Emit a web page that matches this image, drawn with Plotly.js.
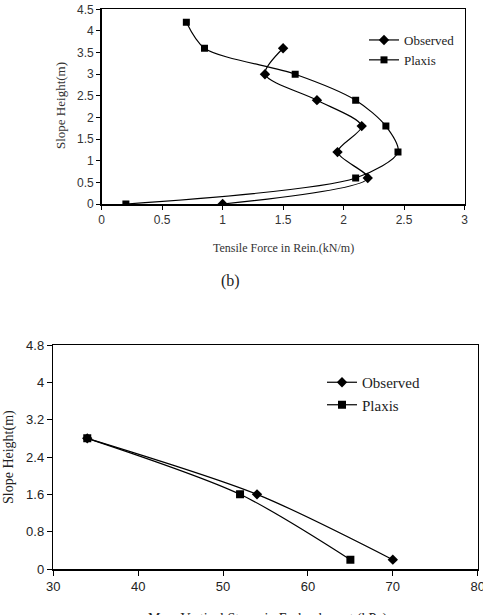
<!DOCTYPE html>
<html>
<head>
<meta charset="utf-8">
<script src="https://cdn.plot.ly/plotly-3.0.1.min.js"></script>
<style>
  html, body { margin: 0; padding: 0; background: #fff; }
  #chart { width: 483px; height: 615px; }
</style>
</head>
<body>
<div id="chart"></div>
<script>
// (b) Tensile force in reinforcement vs. slope height
const tensileObserved = [1.0, 2.2, 1.95, 2.15, 1.78, 1.35, 1.5];
const heightObserved  = [0, 0.6, 1.2, 1.8, 2.4, 3.0, 3.6];
const tensilePlaxis   = [0.2, 2.1, 2.45, 2.35, 2.1, 1.6, 0.85, 0.7];
const heightPlaxis    = [0, 0.6, 1.2, 1.8, 2.4, 3.0, 3.6, 4.2];

// Max. vertical stress in embankment vs. slope height
const stressObserved       = [34, 54, 70];
const stressHeightObserved = [2.8, 1.6, 0.2];
const stressPlaxis         = [34, 52, 65];
const stressHeightPlaxis   = [2.8, 1.6, 0.2];

const W = 483, H = 615;
const px = v => v / W;
const py = v => 1 - v / H;

const serif = 'Liberation Serif, Times New Roman, serif';
const sans = 'Liberation Sans, Arial, sans-serif';

const lineStyle = {color: '#000', width: 1.2, shape: 'spline', smoothing: 0.8};

const traces = [
  {x: tensileObserved, y: heightObserved, name: 'Observed', mode: 'lines+markers',
   xaxis: 'x', yaxis: 'y', legend: 'legend', line: lineStyle,
   marker: {symbol: 'diamond', size: 8, color: '#000'}},
  {x: tensilePlaxis, y: heightPlaxis, name: 'Plaxis', mode: 'lines+markers',
   xaxis: 'x', yaxis: 'y', legend: 'legend', line: lineStyle,
   marker: {symbol: 'square', size: 7, color: '#000'}},
  {x: stressObserved, y: stressHeightObserved, name: 'Observed', mode: 'lines+markers',
   xaxis: 'x2', yaxis: 'y2', legend: 'legend2', line: lineStyle,
   marker: {symbol: 'diamond', size: 8, color: '#000'}},
  {x: stressPlaxis, y: stressHeightPlaxis, name: 'Plaxis', mode: 'lines+markers',
   xaxis: 'x2', yaxis: 'y2', legend: 'legend2', line: lineStyle,
   marker: {symbol: 'square', size: 8, color: '#000'}}
];

const axisBase = {
  showline: true, mirror: true, linecolor: '#000', linewidth: 1.5,
  ticks: 'outside', ticklen: 4, tickcolor: '#000', tickwidth: 1,
  showgrid: false, zeroline: false, fixedrange: true,
  ticklabeloverflow: 'allow'
};

const layout = {
  width: W, height: H,
  margin: {l: 0, r: 0, t: 0, b: 0},
  paper_bgcolor: '#fff', plot_bgcolor: '#fff',
  showlegend: true,
  xaxis: Object.assign({}, axisBase, {
    domain: [px(101.7), px(464.5)], range: [0, 3], dtick: 0.5, anchor: 'y',
    tickfont: {family: sans, size: 12, color: '#333'}
  }),
  yaxis: Object.assign({}, axisBase, {
    domain: [py(204), py(9.3)], range: [0, 4.5], dtick: 0.5, anchor: 'x',
    tickfont: {family: sans, size: 12, color: '#333'}
  }),
  xaxis2: Object.assign({}, axisBase, {
    domain: [px(53.3), px(477.7)], range: [30, 80], dtick: 10, anchor: 'y2',
    ticklen: 5, tickfont: {family: sans, size: 13, color: '#222'}
  }),
  yaxis2: Object.assign({}, axisBase, {
    domain: [py(569), py(345)], range: [0, 4.8], dtick: 0.8, anchor: 'x2',
    ticklen: 5, tickfont: {family: sans, size: 13, color: '#222'},
    tickformat: '.1~f'
  }),
  legend: {
    x: px(364), y: py(25), xanchor: 'left', yanchor: 'top',
    bgcolor: 'rgba(0,0,0,0)', borderwidth: 0,
    font: {family: serif, size: 13, color: '#222'},
    itemwidth: 30, tracegroupgap: 4
  },
  legend2: {
    x: px(322), y: py(366), xanchor: 'left', yanchor: 'top',
    bgcolor: 'rgba(0,0,0,0)', borderwidth: 0,
    font: {family: serif, size: 15, color: '#222'},
    itemwidth: 30, tracegroupgap: 4
  },
  annotations: [
    {text: 'Slope Height(m)', xref: 'paper', yref: 'paper', x: px(60), y: py(106),
     xanchor: 'center', yanchor: 'middle',
     textangle: -90, showarrow: false, font: {family: serif, size: 13, color: '#333'}},
    {text: 'Tensile Force in Rein.(kN/m)', xref: 'paper', yref: 'paper', x: px(283), y: py(248),
     xanchor: 'center', yanchor: 'middle',
     showarrow: false, font: {family: serif, size: 12, color: '#333'}},
    {text: '(b)', xref: 'paper', yref: 'paper', x: px(230), y: py(281),
     xanchor: 'center', yanchor: 'middle',
     showarrow: false, font: {family: serif, size: 16, color: '#222'}},
    {text: 'Slope Height(m)', xref: 'paper', yref: 'paper', x: px(9), y: py(457),
     xanchor: 'center', yanchor: 'middle',
     textangle: -90, showarrow: false, font: {family: serif, size: 14, color: '#222'}},
    {text: 'Max. Vertical Stress in Embankment (kPa)', xref: 'paper', yref: 'paper',
     x: px(268), y: py(609), xanchor: 'center', yanchor: 'top',
     showarrow: false, font: {family: serif, size: 14, color: '#222'}}
  ]
};

Plotly.newPlot('chart', traces, layout, {displayModeBar: false, staticPlot: true});
</script>
</body>
</html>
